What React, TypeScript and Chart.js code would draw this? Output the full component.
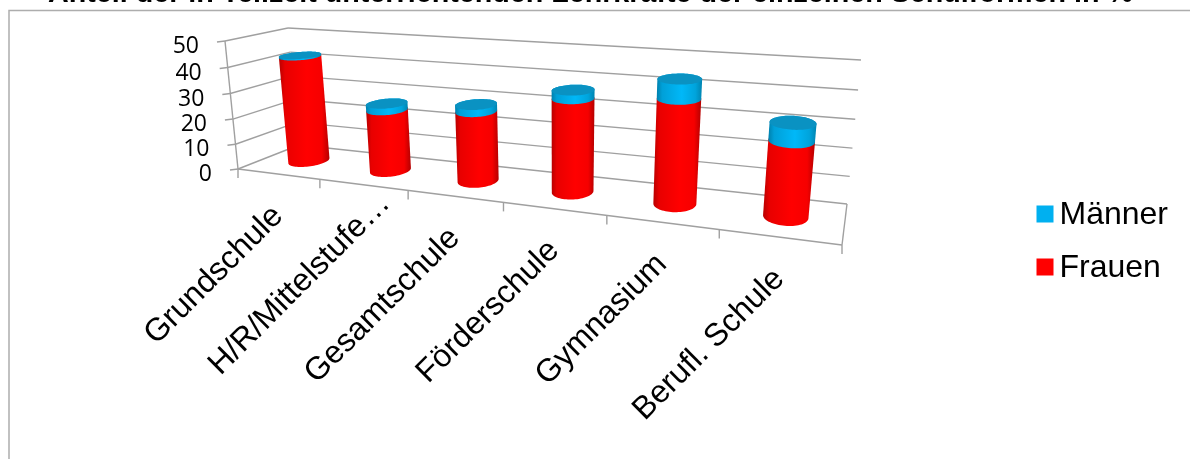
import React, { useEffect, useRef } from "react";
import { Chart, registerables } from "chart.js";

Chart.register(...registerables);

const title = "Anteil der in Teilzeit unterrichtenden Lehrkräfte der einzelnen Schulformen in %";
const categories = ["Grundschule", "H/R/Mittelstufe…", "Gesamtschule", "Förderschule", "Gymnasium", "Berufl. Schule"];
const frauen = [42.2, 24, 26.5, 34.2, 37, 26];
const maenner = [0.5, 2.5, 2.6, 3, 6.7, 6];

type P = [number, number];
const GRID = "#a0a0a0";

function homography(a: P, b: P, c: P, d: P) {
  const dx1 = b[0] - c[0], dx2 = d[0] - c[0], sx = a[0] - b[0] + c[0] - d[0];
  const dy1 = b[1] - c[1], dy2 = d[1] - c[1], sy = a[1] - b[1] + c[1] - d[1];
  const den = dx1 * dy2 - dx2 * dy1;
  const g = (sx * dy2 - dx2 * sy) / den;
  const h = (dx1 * sy - sx * dy1) / den;
  const m = [b[0] - a[0] + g * b[0], d[0] - a[0] + h * d[0], a[0], b[1] - a[1] + g * b[1], d[1] - a[1] + h * d[1], a[1]];
  return (u: number, v: number): P => {
    const w = g * u + h * v + 1;
    return [(m[0] * u + m[1] * v + m[2]) / w, (m[3] * u + m[4] * v + m[5]) / w];
  };
}

const front = homography([238, 169], [842, 245], [858, 84], [225, 41]);
const back = homography([299, 145], [847, 204], [861, 60], [288, 28]);
const project = (u: number, v: number, w: number): P => {
  const f = front(u, v), b = back(u, v);
  return [f[0] + (b[0] - f[0]) * w, f[1] + (b[1] - f[1]) * w];
};

function hull(pts: P[]): P[] {
  const s = [...pts].sort((a, b) => a[0] - b[0] || a[1] - b[1]);
  const cross = (o: P, a: P, b: P) => (a[0] - o[0]) * (b[1] - o[1]) - (a[1] - o[1]) * (b[0] - o[0]);
  const lo: P[] = [], up: P[] = [];
  for (const p of s) {
    while (lo.length > 1 && cross(lo[lo.length - 2], lo[lo.length - 1], p) <= 0) lo.pop();
    lo.push(p);
  }
  for (const p of [...s].reverse()) {
    while (up.length > 1 && cross(up[up.length - 2], up[up.length - 1], p) <= 0) up.pop();
    up.push(p);
  }
  return lo.slice(0, -1).concat(up.slice(0, -1));
}

const DEPTH_CENTER = 0.53;
const DEPTH_RADIUS = 0.235;
function ellipse(u: number, ru: number, v: number): P[] {
  const out: P[] = [];
  for (let i = 0; i < 72; i++) {
    const t = (i / 72) * Math.PI * 2;
    out.push(project(u + ru * Math.cos(t), v, DEPTH_CENTER + DEPTH_RADIUS * Math.sin(t)));
  }
  return out;
}

function fillPoly(ctx: CanvasRenderingContext2D, pts: P[], fill: string | CanvasGradient) {
  ctx.beginPath();
  pts.forEach((p, i) => (i ? ctx.lineTo(p[0], p[1]) : ctx.moveTo(p[0], p[1])));
  ctx.closePath();
  ctx.fillStyle = fill;
  ctx.fill();
}

function line(ctx: CanvasRenderingContext2D, a: P, b: P) {
  ctx.beginPath();
  ctx.moveTo(a[0], a[1]);
  ctx.lineTo(b[0], b[1]);
  ctx.stroke();
}

const shades: Record<string, string[]> = {
  "#ff0000": ["#b80000", "#e80000", "#ff0000", "#f60000", "#b40000"],
  "#00b0f0": ["#0080ac", "#00a0d8", "#00b8f8", "#00a4dc", "#0084b0"],
};

const scene3d = {
  id: "scene3d",
  beforeDraw(chart: any) {
    const { ctx } = chart;
    ctx.save();
    ctx.fillStyle = "#ffffff";
    ctx.fillRect(0, 0, chart.width, chart.height);
    ctx.strokeStyle = "#adadad";
    ctx.lineWidth = 1.5;
    ctx.beginPath();
    ctx.moveTo(9, chart.height);
    ctx.lineTo(9, 10.5);
    ctx.lineTo(chart.width, 10.5);
    ctx.stroke();
    ctx.restore();
  },
  beforeDatasetsDraw(chart: any) {
    const { ctx, chartArea: ca } = chart;
    const xs = chart.scales.x, ys = chart.scales.y;
    const U = (px: number) => (px - ca.left) / ca.width;
    const V = (px: number) => (ca.bottom - px) / ca.height;
    ctx.save();
    ctx.strokeStyle = GRID;
    ctx.lineWidth = 1.4;

    ctx.font = "23px 'Open Sans'";
    ctx.fillStyle = "#000000";
    ctx.textAlign = "right";
    ctx.textBaseline = "middle";
    for (const t of ys.ticks) {
      const v = V(ys.getPixelForValue(t.value));
      const fl = project(0, v, 0);
      line(ctx, [fl[0] - 8, fl[1] + 1], fl);
      line(ctx, fl, project(0, v, 1));
      line(ctx, project(0, v, 1), project(1, v, 1));
      ctx.fillText(String(t.value), fl[0] - 26, fl[1] + 5.5);
    }
    line(ctx, project(0, 0, 0), project(0, 1, 0));
    line(ctx, project(0, 0, 0), project(1, 0, 0));
    line(ctx, project(1, 0, 0), project(1, 0, 1));

    const n = categories.length;
    for (let i = 0; i <= n; i++) {
      const p = project(i / n, 0, 0);
      line(ctx, p, [p[0], p[1] + 9]);
    }

    const metas = chart.getSortedVisibleDatasetMetas();
    for (let i = 0; i < n; i++) {
      metas.forEach((meta: any, mi: number) => {
        const el = meta.data[i];
        const u = U(el.x), ru = el.width / 2 / ca.width;
        const bottom = ellipse(u, ru, V(el.base));
        const top = ellipse(u, ru, V(el.y));
        const all = bottom.concat(top);
        const left = Math.min(...all.map((p) => p[0]));
        const right = Math.max(...all.map((p) => p[0]));
        const midY = (bottom[18][1] + top[54][1]) / 2;
        const color = chart.data.datasets[meta.index].backgroundColor;
        const stops = shades[color];
        const g = ctx.createLinearGradient(left, midY, right, midY);
        [0, 0.12, 0.55, 0.85, 1].forEach((s, k) => g.addColorStop(s, stops[k]));
        fillPoly(ctx, hull(all), g);
        if (mi === metas.length - 1) fillPoly(ctx, top, "#0a92c2");
      });
    }

    ctx.font = "32px 'Liberation Sans'";
    ctx.textAlign = "right";
    ctx.textBaseline = "middle";
    ctx.fillStyle = "#000000";
    for (let i = 0; i < n; i++) {
      const label = xs.getLabelForValue(i);
      const a = project(U(xs.getPixelForValue(i)), 0, 0);
      const shift: P = label.endsWith("…") ? [22, 14] : [0, 37];
      ctx.save();
      ctx.translate(a[0] + shift[0], a[1] + shift[1]);
      ctx.rotate(-Math.PI / 4);
      ctx.fillText(label, 0, 0);
      ctx.restore();
    }
    ctx.restore();
    return false;
  },
  afterDraw(chart: any) {
    const { ctx, legend } = chart;
    ctx.save();
    legend.legendItems.forEach((item: any, i: number) => {
      const hb = legend.legendHitBoxes[i];
      ctx.fillStyle = chart.data.datasets[item.datasetIndex].backgroundColor;
      ctx.fillRect(hb.left + 2, hb.top + hb.height / 2 - 9.5, 17, 17);
    });
    ctx.restore();
  },
};

export default function App() {
  const ref = useRef<HTMLCanvasElement>(null);
  useEffect(() => {
    const chart = new Chart(ref.current as HTMLCanvasElement, {
      type: "bar",
      data: {
        labels: categories,
        datasets: [
          { label: "Frauen", data: frauen, backgroundColor: "#ff0000" },
          { label: "Männer", data: maenner, backgroundColor: "#00b0f0" },
        ],
      },
      plugins: [scene3d],
      options: {
        responsive: false,
        animation: false,
        devicePixelRatio: 1,
        layout: { padding: { left: 3, right: 12, top: 24, bottom: 0 } },
        datasets: { bar: { categoryPercentage: 1, barPercentage: 0.39 } },
        scales: {
          x: { stacked: true, display: false },
          y: { stacked: true, display: false, min: 0, max: 50, ticks: { stepSize: 10 } },
        },
        plugins: {
          tooltip: { enabled: false },
          title: {
            display: true,
            text: title,
            color: "#000000",
            font: { family: "'Liberation Sans'", size: 28.7, weight: "bold" },
            padding: { top: -47.2, bottom: 13 },
          },
          legend: {
            position: "right",
            reverse: true,
            labels: {
              boxWidth: 9,
              boxHeight: 17,
              padding: 21,
              color: "#000000",
              font: { family: "'Liberation Sans'", size: 32 },
              generateLabels: (c: any) =>
                c.data.datasets.map((d: any, i: number) => ({
                  text: d.label,
                  fillStyle: "transparent",
                  strokeStyle: "transparent",
                  lineWidth: 0,
                  datasetIndex: i,
                  fontColor: "#000000",
                })),
            },
          },
        },
      } as any,
    });
    return () => chart.destroy();
  }, []);
  return (
    <div style={{ position: "absolute", left: 0, top: 0, width: 1190, height: 459, overflow: "hidden", background: "#fff" }}>
      <canvas ref={ref} width={1190} height={459} style={{ display: "block" }} />
    </div>
  );
}
